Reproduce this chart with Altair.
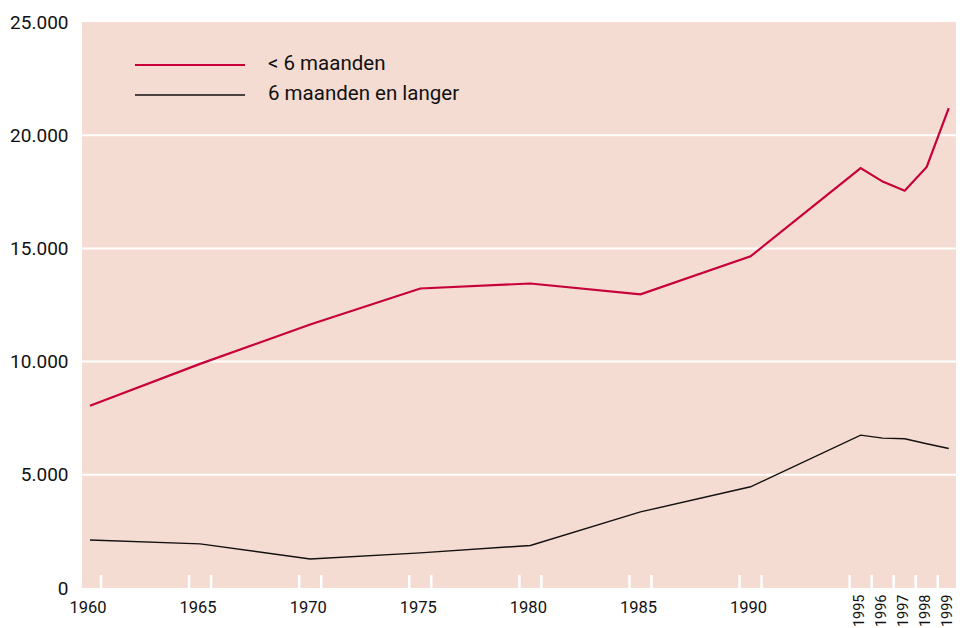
import altair as alt
import pandas as pd

# ---- data ----
years = [1960, 1965, 1970, 1975, 1980, 1985, 1990, 1995, 1996, 1997, 1998, 1999]
kort = [8050, 9900, 11640, 13230, 13450, 12970, 14650, 18550, 17950, 17550, 18600, 21200]
lang = [2120, 1950, 1280, 1550, 1880, 3360, 4470, 6750, 6620, 6590, 6370, 6160]
series = ["< 6 maanden", "6 maanden en langer"]
y_tick_values = [0, 5000, 10000, 15000, 20000, 25000]
grid_values = [5000, 10000, 15000, 20000]
x_labels_flat = [1960, 1965, 1970, 1975, 1980, 1985, 1990]
x_labels_rot = [1995, 1996, 1997, 1998, 1999]

RED = "#c8003a"
BLACK = "#111111"
BG = "#f5dcd2"
FONT = "Roboto"

x_domain = [1959.637, 1999.33]
y_domain = [0, 25000]

df = pd.DataFrame({
    "jaar": years * 2,
    "aantal": kort + lang,
    "reeks": [series[0]] * len(years) + [series[1]] * len(years),
})

# white tick marks at the band boundaries of the labelled years
labelled = x_labels_flat + x_labels_rot
tick_pos = sorted({v for yv in labelled for v in (yv - 0.5, yv + 0.5)
                   if x_domain[0] < v < x_domain[1]})
ticks_df = pd.DataFrame({"t": tick_pos})
grid_df = pd.DataFrame({"g": grid_values})

xscale = alt.Scale(domain=x_domain, nice=False, zero=False)
yscale = alt.Scale(domain=y_domain, nice=False, zero=False)

y_axis = alt.Axis(
    values=y_tick_values, title=None, grid=False, ticks=False, domain=False,
    labelExpr="replace(format(datum.value, ','), ',', '.')",
    labelFont=FONT, labelFontSize=19, labelColor="#111111", labelPadding=14,
    labelBaseline="middle", labelFlush=False, labelOverlap=False,
)

grid = alt.Chart(grid_df).mark_rule(color="white", strokeWidth=2).encode(
    y=alt.Y("g:Q", scale=yscale, axis=y_axis)
)

tick_marks = alt.Chart(ticks_df).mark_rule(color="white", strokeWidth=2.5).encode(
    x=alt.X("t:Q", scale=xscale, axis=alt.Axis(
        values=x_labels_rot, orient="bottom", title=None, grid=False, ticks=False,
        domain=False, format="d", labelAngle=270, labelAlign="right",
        labelBaseline="middle", labelFont=FONT, labelFontSize=14.5,
        labelColor="#111111", labelPadding=6, labelOffset=-1,
        labelFlush=False, labelOverlap=False,
    )),
    y=alt.value(566),
    y2=alt.value(553),
)

lines = alt.Chart(df).mark_line(strokeJoin="miter").encode(
    x=alt.X("jaar:Q", scale=xscale, axis=alt.Axis(
        values=x_labels_flat, orient="bottom", title=None, grid=False, ticks=False,
        domain=False, format="d", labelAngle=0, labelFont=FONT, labelFontSize=16.5,
        labelColor="#111111", labelPadding=11, labelOffset=-2.5,
        labelFlush=False, labelOverlap=False,
    )),
    y=alt.Y("aantal:Q", scale=yscale, axis=y_axis),
    color=alt.Color("reeks:N", scale=alt.Scale(domain=series, range=[RED, BLACK]), legend=None),
    strokeWidth=alt.StrokeWidth("reeks:N", scale=alt.Scale(domain=series, range=[2.2, 1.4]), legend=None),
)

# manual legend
leg_red_line = alt.Chart(pd.DataFrame({"s": [series[0]]})).mark_rule(color=RED, strokeWidth=2.2).encode(
    x=alt.value(53), x2=alt.value(163), y=alt.value(43))
leg_blk_line = alt.Chart(pd.DataFrame({"s": [series[1]]})).mark_rule(color=BLACK, strokeWidth=1.4).encode(
    x=alt.value(53), x2=alt.value(163), y=alt.value(73))
leg_red_txt = alt.Chart(pd.DataFrame({"s": [series[0]]})).mark_text(
    align="left", baseline="middle", font=FONT, fontSize=20.5, color="#111111").encode(
    text="s:N", x=alt.value(186), y=alt.value(42))
leg_blk_txt = alt.Chart(pd.DataFrame({"s": [series[1]]})).mark_text(
    align="left", baseline="middle", font=FONT, fontSize=20.5, color="#111111").encode(
    text="s:N", x=alt.value(186), y=alt.value(72))

chart = alt.layer(
    grid, tick_marks, lines, leg_red_line, leg_blk_line, leg_red_txt, leg_blk_txt
).resolve_axis(x="independent").properties(
    width=874, height=566,
    autosize=alt.AutoSizeParams(type="none"),
    padding={"left": 74, "top": 14, "right": 0, "bottom": 40},
    background="white",
).configure_view(fill=BG, stroke=None)

chart.save("out.html", embed_options={"renderer": "svg", "actions": False})
